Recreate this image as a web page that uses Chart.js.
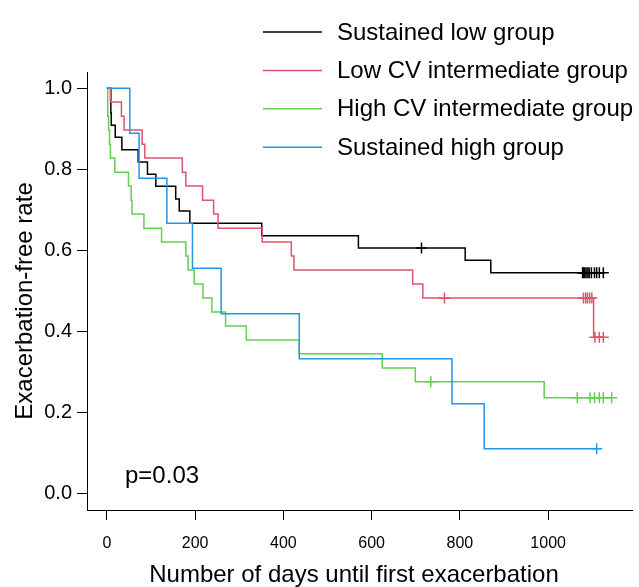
<!DOCTYPE html>
<html>
<head>
<meta charset="utf-8">
<title>Exacerbation-free rate</title>
<script src="https://cdn.jsdelivr.net/npm/chart.js@4.4.1/dist/chart.umd.min.js"></script>
<style>
  html, body { margin: 0; padding: 0; background: #ffffff; }
  #chartBox { width: 639px; height: 587px; }
</style>
</head>
<body>
<div id="chartBox"><canvas id="kmChart" width="639" height="587"></canvas></div>
<script>
// Kaplan-Meier curves: event day and survival after it
const groupNames = ['Sustained low group', 'Low CV intermediate group', 'High CV intermediate group', 'Sustained high group'];
const groupColors = ['#000000', '#DF536B', '#61D04F', '#2297E6'];

const lowTimes = [0, 9, 10, 19, 34, 71, 92, 111, 156, 164, 188, 351, 570, 812, 870];
const lowSurv = [1, 0.939, 0.909, 0.879, 0.848, 0.818, 0.788, 0.758, 0.727, 0.697, 0.667, 0.636, 0.606, 0.576, 0.545];
const lowCensor = [713, 1078, 1080, 1083, 1086, 1090, 1093, 1098, 1105, 1110, 1116, 1125];

const lowCvTimes = [0, 8, 33, 39, 80, 86, 171, 179, 217, 242, 252, 352, 418, 424, 693, 716, 1103];
const lowCvSurv = [1, 0.966, 0.931, 0.897, 0.862, 0.828, 0.793, 0.759, 0.724, 0.690, 0.655, 0.621, 0.586, 0.552, 0.517, 0.483, 0.386];
const lowCvCensor = [765, 1080, 1085, 1089, 1094, 1099, 1106, 1116, 1125];

const highCvTimes = [0, 2, 4, 6, 8, 18, 49, 55, 57, 84, 124, 179, 184, 198, 218, 238, 269, 316, 436, 624, 699, 991];
const highCvSurv = [1, 0.931, 0.897, 0.862, 0.828, 0.793, 0.759, 0.724, 0.690, 0.655, 0.621, 0.586, 0.552, 0.517, 0.483, 0.448, 0.414, 0.379, 0.345, 0.310, 0.276, 0.237];
const highCvCensor = [734, 1066, 1095, 1105, 1116, 1125, 1144];

const highTimes = [0, 52, 73, 136, 194, 259, 436, 782, 855];
const highSurv = [1, 0.889, 0.778, 0.667, 0.556, 0.444, 0.333, 0.222, 0.111];
const highCensor = [1110];

const xTicks = [0, 200, 400, 600, 800, 1000];
const yTicks = [0, 0.2, 0.4, 0.6, 0.8, 1.0];
const xTitle = 'Number of days until first exacerbation';
const yTitle = 'Exacerbation-free rate';
const pValueText = 'p=0.03';

const fontFamily = '"Liberation Sans", Arial, Helvetica, sans-serif';

document.addEventListener('DOMContentLoaded', function() {
    initializeKmChart();
});

// Step line: one point per event, plus the last follow-up day
function stepLine(times, surv, censor) {
    const points = times.map((t, i) => ({ x: t, y: surv[i] }));
    const lastDay = Math.max(times[times.length - 1], ...censor);
    points.push({ x: lastDay, y: surv[surv.length - 1] });
    return points;
}

// Survival level in force on a given day
function survivalAt(times, surv, day) {
    let value = surv[0];
    for (let i = 0; i < times.length; i++) {
        if (times[i] <= day) value = surv[i];
    }
    return value;
}

function censorMarks(times, surv, censor) {
    return censor.map(day => ({ x: day, y: survivalAt(times, surv, day) }));
}

// Legend, axis titles and p value, placed the way the R plot lays them out
const annotationPlugin = {
    id: 'rAnnotations',
    afterDraw(chart) {
        const ctx = chart.ctx;
        ctx.save();
        ctx.font = '24px ' + fontFamily;
        ctx.textBaseline = 'middle';
        ctx.textAlign = 'left';
        groupNames.forEach((name, i) => {
            const y = 32 + i * 38.4;
            ctx.strokeStyle = groupColors[i];
            ctx.lineWidth = 1.5;
            ctx.beginPath();
            ctx.moveTo(263, y);
            ctx.lineTo(322, y);
            ctx.stroke();
            ctx.fillStyle = '#000000';
            ctx.fillText(name, 337, y + 1);
        });
        ctx.fillText(pValueText, 125, 476);

        // axis titles
        ctx.textAlign = 'center';
        ctx.fillText(xTitle, 354, 575);
        ctx.translate(25, 301);
        ctx.rotate(-Math.PI / 2);
        ctx.fillText(yTitle, 0, 0);
        ctx.restore();
    }
};

function initializeKmChart() {
    const ctx = document.getElementById('kmChart').getContext('2d');

    const groups = [
        [lowTimes, lowSurv, lowCensor],
        [lowCvTimes, lowCvSurv, lowCvCensor],
        [highCvTimes, highCvSurv, highCvCensor],
        [highTimes, highSurv, highCensor]
    ];

    const datasets = [];
    groups.forEach((g, i) => {
        datasets.push({
            type: 'line',
            label: groupNames[i],
            data: stepLine(g[0], g[1], g[2]),
            stepped: 'before',
            borderColor: groupColors[i],
            borderWidth: 1.5,
            pointRadius: 0,
            fill: false,
            order: 4 - i
        });
        datasets.push({
            type: 'scatter',
            label: groupNames[i] + ' censored',
            data: censorMarks(g[0], g[1], g[2]),
            pointStyle: 'cross',
            pointRadius: 5.5,
            borderColor: groupColors[i],
            borderWidth: 1.5,
            showLine: false,
            order: 4 - i
        });
    });

    new Chart(ctx, {
        type: 'line',
        data: { datasets: datasets },
        options: {
            responsive: false,
            animation: false,
            devicePixelRatio: 1,
            layout: { padding: { top: 72, right: 0, bottom: 0, left: 0 } },
            plugins: {
                legend: { display: false },
                tooltip: { enabled: false }
            },
            scales: {
                x: {
                    type: 'linear',
                    min: -45,
                    max: 1190,
                    afterBuildTicks: axis => { axis.ticks = xTicks.map(v => ({ value: v })); },
                    afterFit: axis => { axis.height = 77; },
                    grid: { display: true, drawOnChartArea: false, drawTicks: true, tickLength: 10, color: '#000000', tickColor: '#000000' },
                    border: { display: true, color: '#000000', width: 1 },
                    ticks: { color: '#000000', font: { size: 16, family: fontFamily }, padding: 14, maxRotation: 0, autoSkip: false, callback: v => String(v) }
                },
                y: {
                    type: 'linear',
                    min: -0.04,
                    max: 1.04,
                    afterBuildTicks: axis => { axis.ticks = yTicks.map(v => ({ value: v })); },
                    afterFit: axis => { axis.width = 87; },
                    grid: { display: true, drawOnChartArea: false, drawTicks: true, tickLength: 10, color: '#000000', tickColor: '#000000' },
                    border: { display: true, color: '#000000', width: 1 },
                    ticks: { color: '#000000', font: { size: 20, family: fontFamily }, padding: 5, autoSkip: false, callback: v => v.toFixed(1) }
                }
            }
        },
        plugins: [annotationPlugin]
    });
}
</script>
</body>
</html>
